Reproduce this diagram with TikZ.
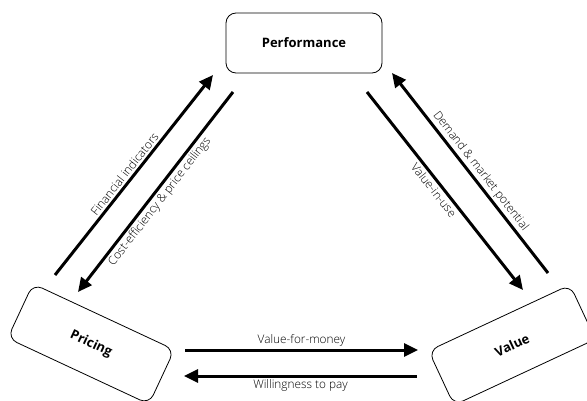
\documentclass[tikz,border=0pt]{standalone}
\usepackage{fontspec}
\setmainfont{Open Sans}
\newfontfamily\lightfont{Open Sans Light}
\usetikzlibrary{arrows.meta}

\tikzset{
  box/.style={draw, rounded corners=10pt, line width=0.8pt, minimum width=156pt, minimum height=60pt, font=\bfseries\fontsize{13}{15}\selectfont},
  flow/.style={line width=3pt, -{Triangle[length=14pt,width=13pt]}},
  lbl/.style={font=\lightfont\fontsize{11.8}{13}\selectfont, inner sep=2pt}
}

\begin{document}
\begin{tikzpicture}[x=1pt,y=-1pt]
\useasboundingbox (0,0) rectangle (587,401);

% the three boxes
\node[box] (perf) at (304,43) {Performance};
\node[box, rotate=-25] (pricing) at (91,344) {Pricing};
\node[box, rotate=25] (value) at (512,345) {Value};

% arrow ends
\coordinate (fiA) at (55,275);  \coordinate (fiB) at (213,75);
\coordinate (ceA) at (233,92);  \coordinate (ceB) at (78,292);
\coordinate (viA) at (367,92);  \coordinate (viB) at (523,290);
\coordinate (dmA) at (548,273); \coordinate (dmB) at (392,73);
\coordinate (vmA) at (185,350); \coordinate (vmB) at (418,350);
\coordinate (wpA) at (417,376); \coordinate (wpB) at (184,376);

\draw[flow] (fiA) -- (fiB) node[lbl, pos=0.48, sloped, above] {Financial indicators};
\draw[flow] (ceA) -- (ceB) node[lbl, pos=0.52, sloped, below] {Cost-efficiency \& price ceilings};
\draw[flow] (viA) -- (viB) node[lbl, pos=0.47, sloped, below] {Value-in-use};
\draw[flow] (dmA) -- (dmB) node[lbl, pos=0.48, sloped, above] {Demand \& market potential};

\draw[flow] (vmA) -- (vmB) node[lbl, midway, above] {Value-for-money};
\draw[flow] (wpA) -- (wpB) node[lbl, midway, below] {Willingness to pay};

\end{tikzpicture}
\end{document}
